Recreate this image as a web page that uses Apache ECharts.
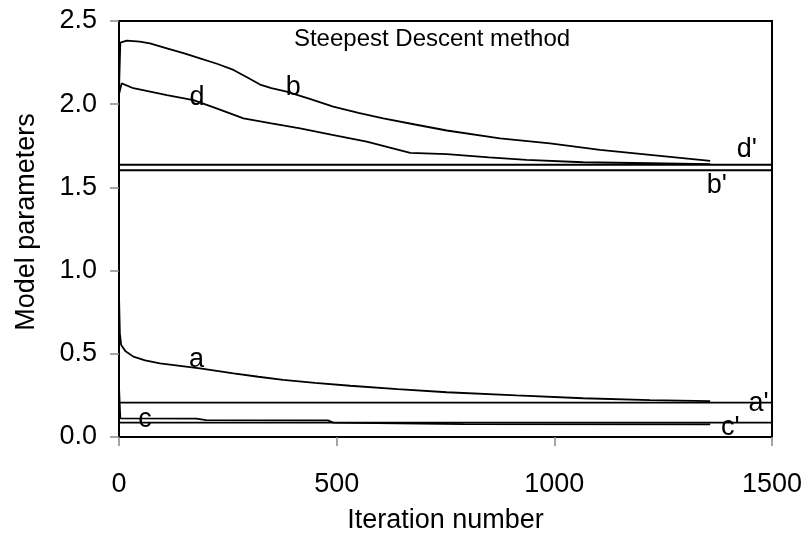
<!DOCTYPE html>
<html>
<head>
<meta charset="utf-8">
<script src="https://cdn.jsdelivr.net/npm/echarts@6/dist/echarts.min.js"></script>
<style>html,body{margin:0;padding:0;background:#fff}#c{width:809px;height:533px}</style>
</head>
<body>
<div id="c"></div>
<script>
// ---- data ----
const iterB = [0, 3, 18, 48, 71, 110, 150, 186, 225, 263, 295, 324, 350, 385, 440, 492, 550, 607, 680, 753, 875, 990, 1105, 1220, 1358];
const valB  = [2.08, 2.37, 2.382, 2.376, 2.366, 2.336, 2.305, 2.276, 2.243, 2.206, 2.160, 2.118, 2.096, 2.075, 2.030, 1.985, 1.948, 1.915, 1.878, 1.842, 1.795, 1.765, 1.725, 1.695, 1.659];
const iterD = [0, 6, 33, 110, 171, 224, 255, 286, 350, 416, 490, 569, 620, 669, 753, 850, 936, 1066, 1220, 1358];
const valD  = [2.06, 2.125, 2.096, 2.055, 2.025, 1.975, 1.945, 1.915, 1.885, 1.855, 1.815, 1.775, 1.740, 1.708, 1.700, 1.680, 1.665, 1.651, 1.645, 1.640];
const iterA = [0, 2, 5, 15, 33, 60, 94, 140, 186, 263, 320, 377, 450, 531, 640, 753, 913, 1066, 1220, 1358];
const valA  = [0.85, 0.62, 0.553, 0.515, 0.483, 0.460, 0.443, 0.428, 0.413, 0.383, 0.362, 0.343, 0.325, 0.308, 0.288, 0.269, 0.250, 0.233, 0.222, 0.216];
const iterC = [0, 3, 178, 200, 480, 492, 791, 1358];
const valC  = [0.30, 0.112, 0.110, 0.102, 0.100, 0.086, 0.077, 0.076];
const refNames  = ["a'", "b'", "c'", "d'"];
const refValues = [0.207, 1.603, 0.086, 1.636];
const xTicks = [0, 500, 1000, 1500];
const yTicks = [0.0, 0.5, 1.0, 1.5, 2.0, 2.5];
const chartTitle = 'Steepest Descent method';
const xName = 'Iteration number';
const yName = 'Model parameters';

// ---- annotation placement (layout, in data coordinates) ----
const annotations = [
  { text: chartTitle, at: [719, 2.392], size: 24 },
  { text: 'b',  at: [400, 2.103] },
  { text: 'd',  at: [179, 2.037] },
  { text: "d'", at: [1442, 1.725] },
  { text: "b'", at: [1373, 1.514] },
  { text: 'a',  at: [178, 0.463] },
  { text: 'c',  at: [60, 0.106] },
  { text: "a'", at: [1469, 0.203] },
  { text: "c'", at: [1404, 0.054] }
];

const FONT = 'Liberation Sans, Arial, sans-serif';
const zip = (xs, ys) => xs.map((x, i) => [x, ys[i]]);
const lineStyle = { color: '#000', width: 1.8 };
const curve = (name, xs, ys) => ({
  name, type: 'line', data: zip(xs, ys), showSymbol: false, symbol: 'none',
  lineStyle, silent: true, z: 3
});

const series = [
  curve('b', iterB, valB),
  curve('d', iterD, valD),
  curve('a', iterA, valA),
  curve('c', iterC, valC)
];
refNames.forEach((n, i) => {
  series.push({
    name: n, type: 'line', symbol: 'none', silent: true, z: 3,
    data: [[xTicks[0], refValues[i]], [xTicks[xTicks.length - 1], refValues[i]]],
    lineStyle: { color: '#000', width: 1.8 }
  });
});
series.push({
  type: 'scatter', symbolSize: 0, silent: true, z: 5,
  itemStyle: { opacity: 1, color: '#000' },
  data: annotations.map(a => {
    const d = { value: a.at, name: a.text };
    if (a.size) d.label = { fontSize: a.size };
    return d;
  }),
  label: {
    show: true, position: 'inside', color: '#000', opacity: 1, fontFamily: FONT,
    textBorderWidth: 0,
    formatter: p => p.name,
    fontSize: 27
  }
});

const chart = echarts.init(document.getElementById('c'), null, { renderer: 'canvas' });
chart.setOption({
  animation: false,
  backgroundColor: '#fff',
  grid: {
    left: 119, right: 37, top: 21, bottom: 96,
    containLabel: false, outerBoundsMode: 'none',
    show: true, borderColor: '#000', borderWidth: 2, backgroundColor: 'transparent'
  },
  xAxis: {
    type: 'value', min: xTicks[0], max: xTicks[xTicks.length - 1], interval: 500,
    name: xName, nameLocation: 'middle', nameGap: 70,
    nameTextStyle: { fontSize: 27, color: '#000', fontFamily: FONT },
    axisLine: { show: true, lineStyle: { color: '#000', width: 2 } },
    axisTick: { show: true, inside: false, length: 9, lineStyle: { color: '#888', width: 1.5 } },
    axisLabel: { fontSize: 27, color: '#000', fontFamily: FONT, margin: 34, formatter: v => String(v) },
    splitLine: { show: false }
  },
  yAxis: {
    type: 'value', min: yTicks[0], max: yTicks[yTicks.length - 1], interval: 0.5,
    name: yName, nameLocation: 'middle', nameGap: 79, nameRotate: 90,
    nameTextStyle: { fontSize: 27, color: '#000', fontFamily: FONT, padding: [0, 0, 0, 14] },
    axisLine: { show: true, lineStyle: { color: '#000', width: 2 } },
    axisTick: { show: true, inside: false, length: 9, lineStyle: { color: '#888', width: 1.5 } },
    axisLabel: { fontSize: 27, color: '#000', fontFamily: FONT, margin: 22, formatter: v => v.toFixed(1) },
    splitLine: { show: false }
  },
  series
});
</script>
</body>
</html>
